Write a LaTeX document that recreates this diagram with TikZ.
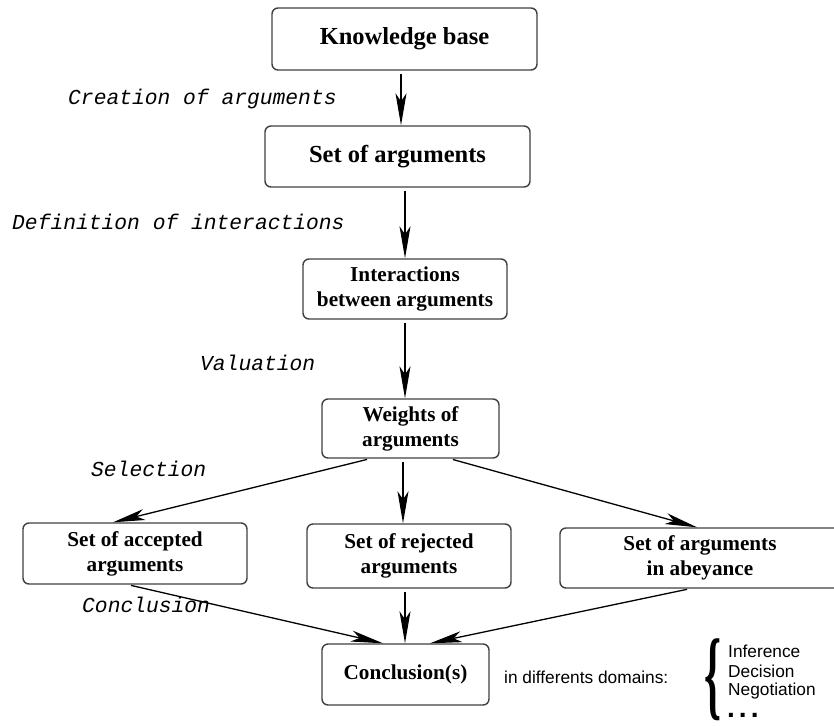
\documentclass[tikz,border=0pt]{standalone}
\usepackage{fontspec}
\setmainfont{Liberation Serif}
\setsansfont{Liberation Sans}
\setmonofont{Liberation Mono}
\usetikzlibrary{arrows.meta, positioning}

\tikzset{
  stage/.style={draw=black!75, line width=1.4pt, rounded corners=6pt, align=center,
    inner sep=0pt, font=\fontsize{21.2}{25}\selectfont\bfseries},
  bigstage/.style={stage, font=\fontsize{24.5}{28}\selectfont\bfseries},
  steplabel/.style={anchor=west, inner sep=0pt, font=\fontsize{21.3}{25}\selectfont\ttfamily\itshape},
  domaintext/.style={anchor=west, inner sep=0pt, font=\fontsize{17.3}{20}\selectfont\sffamily},
  flow/.style={-{Stealth[length=32pt,width=11pt,inset=8pt]}, line width=1.3pt, shorten <=3pt},
}

\begin{document}
\begin{tikzpicture}[x=1pt,y=-1pt]
    \useasboundingbox (0,0) rectangle (834,725);

    % Stages
    \node[bigstage, minimum width=265, minimum height=62] (kb) at (404.5,39) {Knowledge base};
    \node[bigstage, minimum width=265, minimum height=61] (args) at (397.5,156.5) {Set of arguments};
    \node[stage, minimum width=204, minimum height=60] (inter) at (405,289) {Interactions\\between arguments};
    \node[stage, minimum width=177, minimum height=59] (weights) at (410.5,428.5) {Weights of\\arguments};
    \node[stage, minimum width=224, minimum height=61] (acc) at (135,553.5) {Set of accepted\\arguments};
    \node[stage, minimum width=204, minimum height=64] (rej) at (409,556) {Set of rejected\\arguments};
    \node[stage, minimum width=280, minimum height=60] (abey) at (700,558) {Set of arguments\\in abeyance};
    \node[stage, minimum width=167, minimum height=61] (concl) at (405.5,674.5) {Conclusion(s)};

    % Steps
    \node[steplabel] (creation) at (68,99) {Creation of arguments};
    \node[steplabel] (definition) at (12,222) {Definition of interactions};
    \node[steplabel] (valuation) at (200,363) {Valuation};
    \node[steplabel] (selection) at (91,469) {Selection};
    \node[steplabel] (conclusion) at (82,605) {Conclusion};

    % Arrows
    \draw[flow] ([xshift=-3.5]kb.south) -- ([xshift=3.5]args.north);
    \draw[flow] ([xshift=7.5]args.south) -- (inter.north);
    \draw[flow] (inter.south) -- ([xshift=-5.5]weights.north);
    \draw[flow] ([xshift=-40.5]weights.south) -- ([xshift=-22]acc.north);
    \draw[flow] ([xshift=-7.5]weights.south) -- ([xshift=-6]rej.north);
    \draw[flow] ([xshift=39.5]weights.south) -- ([xshift=-3]abey.north);
    \draw[flow] ([xshift=-7]acc.south) -- ([xshift=-22.5]concl.north);
    \draw[flow] ([xshift=-4]rej.south) -- ([xshift=-0.5]concl.north);
    \draw[flow] ([xshift=-10]abey.south) -- ([xshift=24.5]concl.north);

    % Domains
    \node[domaintext] (domains) at (504,677) {in differents domains:};
    \node[inner sep=0pt] (brace) at (713,680) {\resizebox*{17pt}{82pt}{\fontsize{40}{40}\selectfont\bfseries\{}};
    \node[domaintext] (inference) at (728,651) {Inference};
    \node[domaintext] (decision) at (728,671) {Decision};
    \node[domaintext] (negotiation) at (728,691) {Negotiation};
    \node[domaintext, font=\fontsize{28}{28}\selectfont\sffamily\bfseries] (dots) at (727,715) {.\kern4pt.\kern4pt.};
\end{tikzpicture}
\end{document}
